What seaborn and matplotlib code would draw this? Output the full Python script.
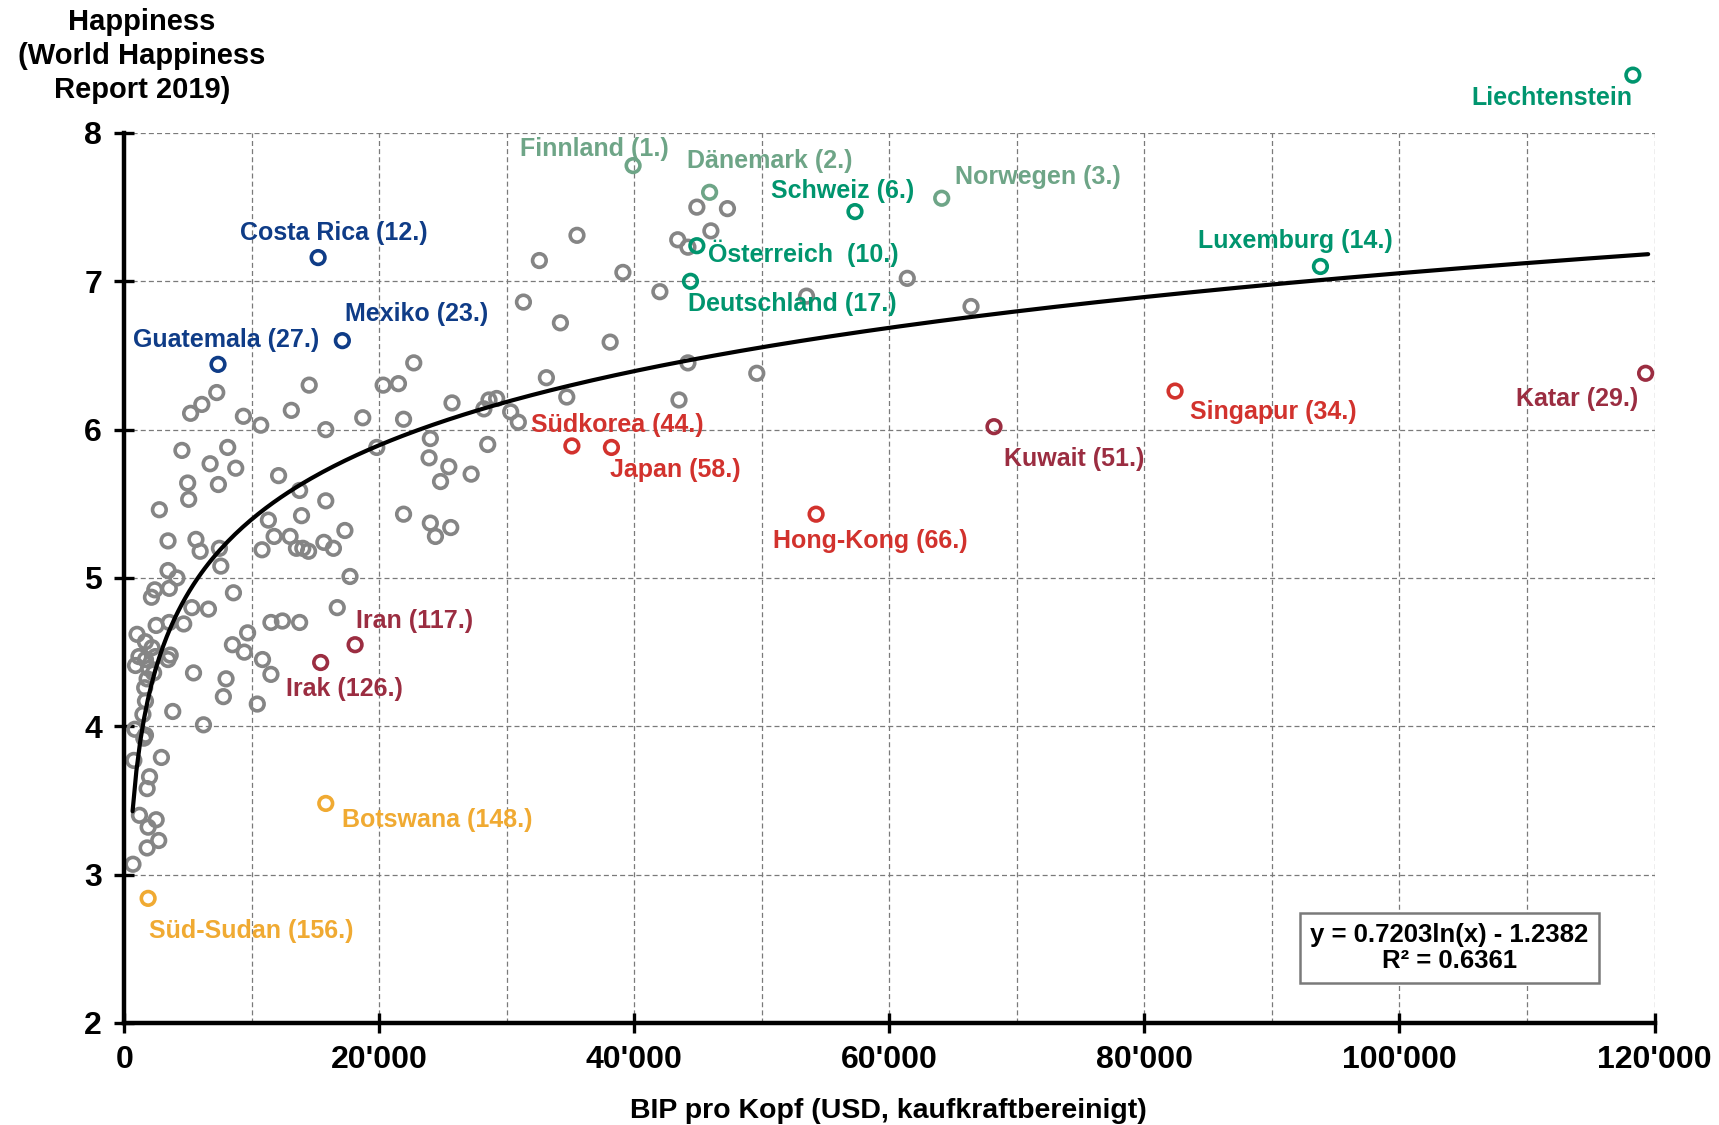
import matplotlib
matplotlib.use("Agg")
import matplotlib.pyplot as plt
from matplotlib.ticker import MultipleLocator, FuncFormatter
import seaborn as sns
import numpy as np
import pandas as pd

# grey countries: BIP pro Kopf (tausend USD, PPP) and happiness score
gray_gdp_k = [
    7.25, 6.08, 5.2, 9.34, 10.7, 14.5, 13.1, 15.8,
    4.52, 8.11, 6.73, 8.74, 4.97, 7.38, 12.1, 5.05, 2.75,
    13.75, 15.8, 13.9, 11.3, 11.75, 13.0, 13.5, 14.0, 14.45,
    15.65, 16.4, 17.3, 10.8, 3.43, 5.62, 5.95, 7.46, 7.57,
    3.43, 4.13, 3.53, 2.39, 2.13, 8.56, 5.3, 6.6, 16.7,
    2.5, 3.53, 4.66, 11.5, 12.4, 13.75, 1.0, 9.67,
    8.48, 9.41, 10.84, 11.5, 5.43, 7.98, 7.77, 10.43, 3.8, 6.21,
    1.66, 2.18, 1.15, 1.66, 2.44, 3.6, 3.43, 0.88, 1.92, 2.3, 1.79, 1.6,
    1.66, 1.46, 0.83, 1.66, 1.53, 0.75, 2.91, 1.98, 1.79, 1.19, 2.5, 1.87,
    2.7, 1.79, 0.68,
    22.7, 20.3, 21.5, 18.7, 21.9, 25.7, 28.2, 28.6, 29.2, 30.3, 30.9, 33.1,
    34.7, 38.1, 19.8, 24.0, 28.5, 23.9, 25.45, 24.8, 27.2, 21.9, 24.0, 24.4,
    25.6, 17.7,
    44.9, 47.3, 46.0, 43.4, 44.2, 35.5, 32.55, 39.1, 42.0, 31.3, 34.2, 44.2,
    49.6, 43.5, 61.4, 53.5, 66.4,
]
gray_happy = [
    6.25, 6.17, 6.11, 6.09, 6.03, 6.30, 6.13, 6.00,
    5.86, 5.88, 5.77, 5.74, 5.64, 5.63, 5.69, 5.53, 5.46,
    5.59, 5.52, 5.42, 5.39, 5.28, 5.28, 5.20, 5.20, 5.18,
    5.24, 5.20, 5.32, 5.19, 5.25, 5.26, 5.18, 5.20, 5.08,
    5.05, 5.00, 4.93, 4.92, 4.87, 4.90, 4.80, 4.79, 4.80,
    4.68, 4.70, 4.69, 4.70, 4.71, 4.70, 4.62, 4.63,
    4.55, 4.50, 4.45, 4.35, 4.36, 4.32, 4.20, 4.15, 4.10, 4.01,
    4.57, 4.53, 4.47, 4.45, 4.47, 4.48, 4.45, 4.41, 4.39, 4.36, 4.32, 4.26,
    4.17, 4.08, 3.98, 3.94, 3.92, 3.77, 3.79, 3.66, 3.58, 3.40, 3.37, 3.32,
    3.23, 3.18, 3.07,
    6.45, 6.30, 6.31, 6.08, 6.07, 6.18, 6.14, 6.20, 6.21, 6.12, 6.05, 6.35,
    6.22, 6.59, 5.88, 5.94, 5.90, 5.81, 5.75, 5.65, 5.70, 5.43, 5.37, 5.28,
    5.34, 5.01,
    7.50, 7.49, 7.34, 7.28, 7.23, 7.31, 7.14, 7.06, 6.93, 6.86, 6.72, 6.45,
    6.38, 6.20, 7.02, 6.90, 6.83,
]

# highlighted countries
hl_names = ["Finnland", "Dänemark", "Norwegen", "Schweiz", "Österreich ",
            "Deutschland", "Luxemburg", "Liechtenstein", "Costa Rica", "Mexiko",
            "Guatemala", "Südkorea", "Japan", "Hong-Kong", "Kuwait", "Singapur",
            "Katar", "Iran", "Irak", "Botswana", "Süd-Sudan"]
hl_ranks = [1, 2, 3, 6, 10, 17, 14, None, 12, 23, 27, 44, 58, 66, 51, 34, 29,
            117, 126, 148, 156]
hl_gdp_k = [39.9, 45.9, 64.1, 57.3, 44.9, 44.4, 93.8, 118.3, 15.2, 17.1, 7.35,
            35.1, 38.2, 54.25, 68.2, 82.4, 119.3, 18.1, 15.4, 15.8, 1.87]
hl_happy = [7.78, 7.60, 7.56, 7.47, 7.24, 7.00, 7.10, 8.39, 7.16, 6.60, 6.44,
            5.89, 5.88, 5.43, 6.02, 6.26, 6.38, 4.55, 4.43, 3.48, 2.84]
hl_group = ["nordic", "nordic", "nordic", "europe", "europe", "europe", "europe",
            "europe", "latam", "latam", "latam", "asia", "asia", "asia", "gulf",
            "asia", "gulf", "gulf", "gulf", "africa", "africa"]

# logarithmic trend (Excel)
trend_a, trend_b, trend_r2 = 0.7203, -1.2382, 0.6361
trend_x_from, trend_x_to = 650, 119500

GRAY = "#858585"
group_colors = {"nordic": "#6ea587", "europe": "#00956e", "latam": "#0f3c87",
                "asia": "#d2322d", "gulf": "#9b2d41", "africa": "#f0aa32"}

# label offsets in points (dx, dy, ha)
label_pos = {
    "Finnland": (-81.6, 11.9, "left"), "Dänemark": (-16.6, 22.2, "left"),
    "Norwegen": (9.5, 15.0, "left"), "Schweiz": (-60.2, 15.0, "left"),
    "Österreich ": (7.9, -5.5, "left"), "Deutschland": (-1.6, -16.6, "left"),
    "Luxemburg": (-87.9, 18.2, "left"), "Liechtenstein": (0, -16.6, "right"),
    "Costa Rica": (-56.2, 17.4, "left"), "Mexiko": (1.6, 19.0, "left"),
    "Guatemala": (-61.0, 17.4, "left"), "Südkorea": (-29.3, 15.0, "left"),
    "Japan": (-0.8, -16.6, "left"), "Hong-Kong": (-30.9, -19.0, "left"),
    "Kuwait": (7.1, -23.0, "left"), "Singapur": (11.1, -15.0, "left"),
    "Katar": (-5.5, -18.2, "right"), "Iran": (0.8, 17.4, "left"),
    "Irak": (-25.3, -19.0, "left"), "Botswana": (11.9, -11.9, "left"),
    "Süd-Sudan": (0.8, -23.8, "left"),
}

sns.set_style("white")
plt.rcParams["font.family"] = ["Liberation Sans", "DejaVu Sans"]
plt.rcParams["font.weight"] = "bold"
plt.rcParams["text.color"] = "black"
plt.rcParams["xtick.color"] = "black"
plt.rcParams["ytick.color"] = "black"

gray_df = pd.DataFrame({"gdp": np.array(gray_gdp_k) * 1000, "happy": gray_happy})
hl_df = pd.DataFrame({"name": hl_names, "rank": hl_ranks,
                      "gdp": np.array(hl_gdp_k) * 1000, "happy": hl_happy,
                      "group": hl_group})

fig = plt.figure(figsize=(17.19, 11.25), dpi=100)
ax = fig.add_axes([0.0723, 0.0907, 0.8902, 0.7911])

MS = 96
LW = 2.6
sns.scatterplot(data=gray_df, x="gdp", y="happy", ax=ax, color=GRAY,
                facecolors="none", edgecolor=GRAY, s=MS, linewidth=LW, zorder=3)

tx = np.linspace(trend_x_from, trend_x_to, 400)
trend = pd.DataFrame({"x": tx, "y": trend_a * np.log(tx) + trend_b})
sns.lineplot(data=trend, x="x", y="y", ax=ax, color="black", lw=3, zorder=4)

sns.scatterplot(data=hl_df, x="gdp", y="happy", hue="group", palette=group_colors,
                ax=ax, s=MS, linewidth=LW, legend=False, zorder=5, clip_on=False)
pts = ax.collections[-1]
pts.set_edgecolors(pts.get_facecolors())
pts.set_facecolors("none")

for _, r in hl_df.iterrows():
    label = r["name"] if pd.isna(r["rank"]) else f"{r['name']} ({int(r['rank'])}.)"
    dx, dy, ha = label_pos[r["name"]]
    ax.annotate(label, (r["gdp"], r["happy"]), xytext=(dx, dy),
                textcoords="offset points", ha=ha, va="center", fontsize=18,
                fontweight="bold", color=group_colors[r["group"]],
                annotation_clip=False, zorder=6)

ax.set_xlim(0, 120000)
ax.set_ylim(2, 8)
ax.xaxis.set_major_locator(MultipleLocator(20000))
ax.xaxis.set_minor_locator(MultipleLocator(10000))
ax.yaxis.set_major_locator(MultipleLocator(1))
ax.xaxis.set_major_formatter(FuncFormatter(lambda v, p: f"{v:,.0f}".replace(",", "'")))

ax.grid(True, which="both", axis="x", color="#7a7a7a", lw=0.9, ls=(0, (4, 2.5)))
ax.grid(True, which="major", axis="y", color="#7a7a7a", lw=0.9, ls=(0, (4, 2.5)))
ax.set_axisbelow(True)

for side in ["top", "right"]:
    ax.spines[side].set_visible(False)
for side in ["left", "bottom"]:
    ax.spines[side].set_color("black")
    ax.spines[side].set_linewidth(3.2)
    ax.spines[side].set_zorder(7)

ax.tick_params(which="major", direction="inout", length=14, width=2.4,
               color="black", labelcolor="black", labelsize=23, pad=9,
               left=True, bottom=True)
ax.tick_params(which="minor", length=0)
for t in ax.get_xticklabels() + ax.get_yticklabels():
    t.set_fontweight("bold")

ax.set_xlabel("")
ax.set_ylabel("")
fig.text(0.517, 0.0124, "BIP pro Kopf (USD, kaufkraftbereinigt)", ha="center",
         va="center", fontsize=20.5, fontweight="bold", color="black")
fig.text(0.0826, 0.950, "Happiness\n(World Happiness\nReport 2019)", ha="center",
         va="center", fontsize=21, fontweight="bold", linespacing=1.28,
         color="black")

ax.text(0.866, 0.0843, f"y = {trend_a}ln(x) - {abs(trend_b)}\nR² = {trend_r2}",
        transform=ax.transAxes, ha="center", va="center", fontsize=18.5,
        fontweight="bold", linespacing=1.1, zorder=8, color="black",
        bbox=dict(boxstyle="square,pad=0.4", fc="white", ec="#7a7a7a", lw=1.8))

fig.savefig("out.png", dpi=100)
